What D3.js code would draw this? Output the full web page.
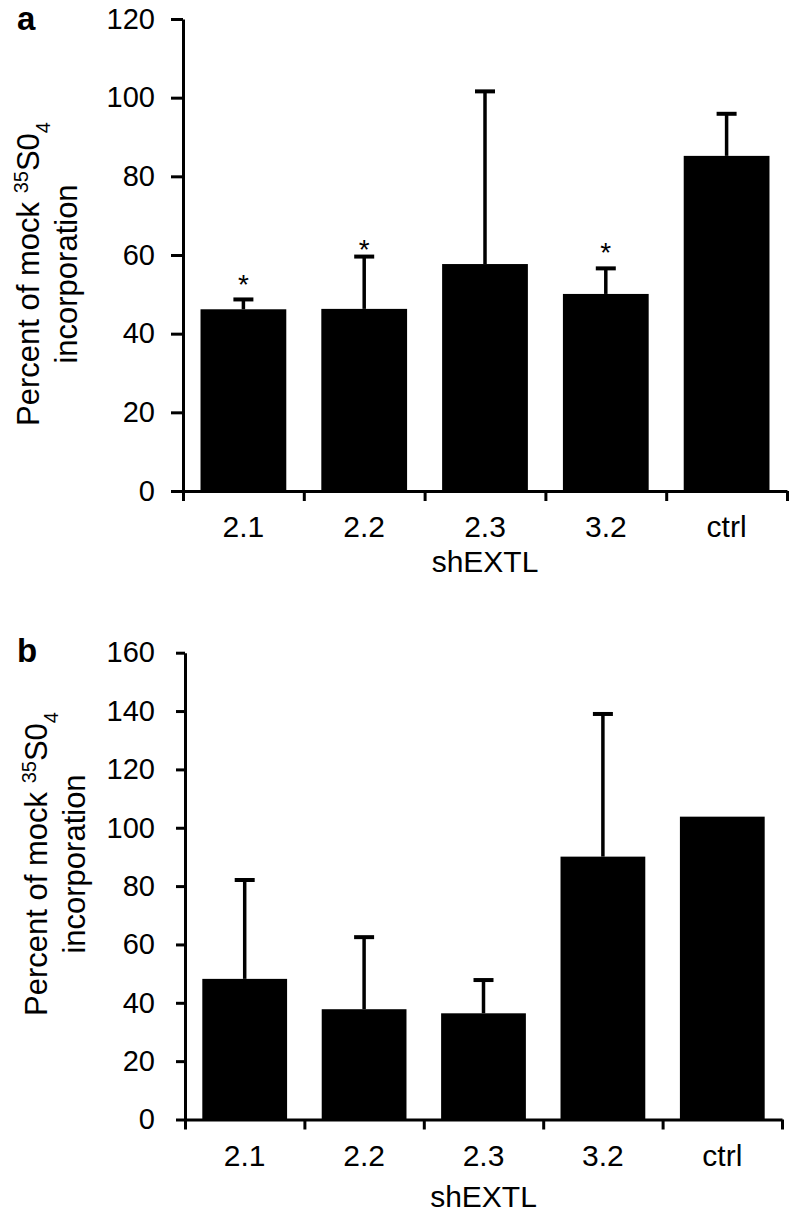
<!DOCTYPE html>
<html>
<head>
<meta charset="utf-8">
<script src="https://cdn.jsdelivr.net/npm/d3@7"></script>
<style>
  html, body { margin: 0; padding: 0; background: #fff; }
  svg { display: block; }
  text { font-family: "Liberation Sans", Arial, Helvetica, sans-serif; fill: #000; }
</style>
</head>
<body>
<svg id="chart" width="792" height="1220"></svg>
<script>
// ---- data ----
const categories = ["2.1", "2.2", "2.3", "3.2", "ctrl"];
const xTitle = "shEXTL";

// panel a
const valuesA = [46.2, 46.3, 57.7, 50.1, 85.2];
const errorsA = [2.5, 13.3, 43.9, 6.5, 10.7];
const starsA  = [54.1, 63.0, null, 62.3, null];   // level of significance asterisk
const ticksA  = [0, 20, 40, 60, 80, 100, 120];

// panel b
const valuesB = [48.2, 37.8, 36.4, 90.1, 103.8];
const errorsB = [33.9, 24.7, 11.4, 48.9, 0];
const starsB  = [null, null, null, null, null];
const ticksB  = [0, 20, 40, 60, 80, 100, 120, 140, 160];

const svg = d3.select("#chart");

function panel(cfg) {
  const g = svg.append("g");
  const x = d3.scaleBand().domain(categories).range([cfg.x0, cfg.x1])
    .paddingInner(0.29).paddingOuter(0.145);
  const xb = d3.scaleLinear().domain([0, categories.length]).range([cfg.x0, cfg.x1]);
  const y = d3.scaleLinear().domain([0, cfg.ticks[cfg.ticks.length - 1]]).range([cfg.yBottom, cfg.yTop]);

  // bars
  g.selectAll("rect.bar").data(cfg.values).join("rect")
    .attr("class", "bar")
    .attr("x", (d, i) => x(categories[i]))
    .attr("width", x.bandwidth())
    .attr("y", d => y(d))
    .attr("height", d => y(0) - y(d))
    .attr("fill", "#000");

  // error bars (upper only)
  const eb = cfg.values.map((v, i) => ({ i, v, e: cfg.errors[i] })).filter(d => d.e > 0);
  g.selectAll("line.err").data(eb).join("line")
    .attr("x1", d => x(categories[d.i]) + x.bandwidth() / 2)
    .attr("x2", d => x(categories[d.i]) + x.bandwidth() / 2)
    .attr("y1", d => y(d.v))
    .attr("y2", d => y(d.v + d.e))
    .attr("stroke", "#000").attr("stroke-width", 3.5);
  g.selectAll("line.cap").data(eb).join("line")
    .attr("x1", d => x(categories[d.i]) + x.bandwidth() / 2 - 10)
    .attr("x2", d => x(categories[d.i]) + x.bandwidth() / 2 + 10)
    .attr("y1", d => y(d.v + d.e))
    .attr("y2", d => y(d.v + d.e))
    .attr("stroke", "#000").attr("stroke-width", 4);

  // asterisks
  const st = cfg.stars.map((s, i) => ({ i, s })).filter(d => d.s != null);
  g.selectAll("text.star").data(st).join("text")
    .attr("x", d => x(categories[d.i]) + x.bandwidth() / 2)
    .attr("y", d => y(d.s) + 16)
    .attr("text-anchor", "middle")
    .style("font-size", "28px")
    .text("*");

  // y axis
  const ya = g.append("g")
    .attr("transform", `translate(${cfg.x0},0)`)
    .call(d3.axisLeft(y).tickValues(cfg.ticks).tickSize(cfg.ytick).tickSizeOuter(0)
      .tickPadding(cfg.ypad).tickFormat(d3.format("d")));
  ya.selectAll("path, line").attr("stroke", "#000").attr("stroke-width", 3);
  ya.selectAll("text").style("font-size", "29px").attr("fill", "#000");

  // x axis: boundary ticks
  const xa = g.append("g")
    .attr("transform", `translate(0,${cfg.yBottom})`)
    .call(d3.axisBottom(xb).tickValues(d3.range(categories.length + 1)).tickSize(10)
      .tickSizeOuter(0).tickFormat(""));
  xa.selectAll("path, line").attr("stroke", "#000").attr("stroke-width", 3);

  // x category labels
  const xl = g.append("g")
    .attr("transform", `translate(0,${cfg.yBottom})`)
    .call(d3.axisBottom(x).tickSize(0).tickPadding(25));
  xl.select(".domain").remove();
  xl.selectAll("text").style("font-size", "30px").attr("fill", "#000");

  // x title
  g.append("text")
    .attr("x", (cfg.x0 + cfg.x1) / 2)
    .attr("y", cfg.xTitleY)
    .attr("text-anchor", "middle")
    .style("font-size", "30px")
    .text(xTitle);

  // y title (two lines)
  const yt = g.append("text")
    .attr("transform", `translate(${cfg.yl1},${cfg.ylc}) rotate(-90)`)
    .attr("text-anchor", "middle")
    .style("font-size", "31px");
  yt.append("tspan").text("Percent of mock ");
  yt.append("tspan").attr("baseline-shift", "super").style("font-size", "20px").text("35");
  yt.append("tspan").text("S0");
  yt.append("tspan").attr("baseline-shift", "sub").style("font-size", "20px").text("4");
  g.append("text")
    .attr("transform", `translate(${cfg.yl2},${cfg.ylc}) rotate(-90)`)
    .attr("text-anchor", "middle")
    .style("font-size", "31px")
    .text("incorporation");

  // panel letter
  g.append("text")
    .attr("x", 17).attr("y", cfg.letterY)
    .style("font-size", "33px").style("font-weight", "bold")
    .text(cfg.letter);
}

panel({
  letter: "a", letterY: 30,
  values: valuesA, errors: errorsA, stars: starsA, ticks: ticksA,
  x0: 183, x1: 787, yTop: 19, yBottom: 491,
  ytick: 12, ypad: 16, xTitleY: 572,
  yl1: 39, yl2: 77, ylc: 274
});

panel({
  letter: "b", letterY: 662,
  values: valuesB, errors: errorsB, stars: starsB, ticks: ticksB,
  x0: 185, x1: 782, yTop: 652.7, yBottom: 1119.5,
  ytick: 9, ypad: 21, xTitleY: 1207,
  yl1: 47, yl2: 85, ylc: 864
});
</script>
</body>
</html>
